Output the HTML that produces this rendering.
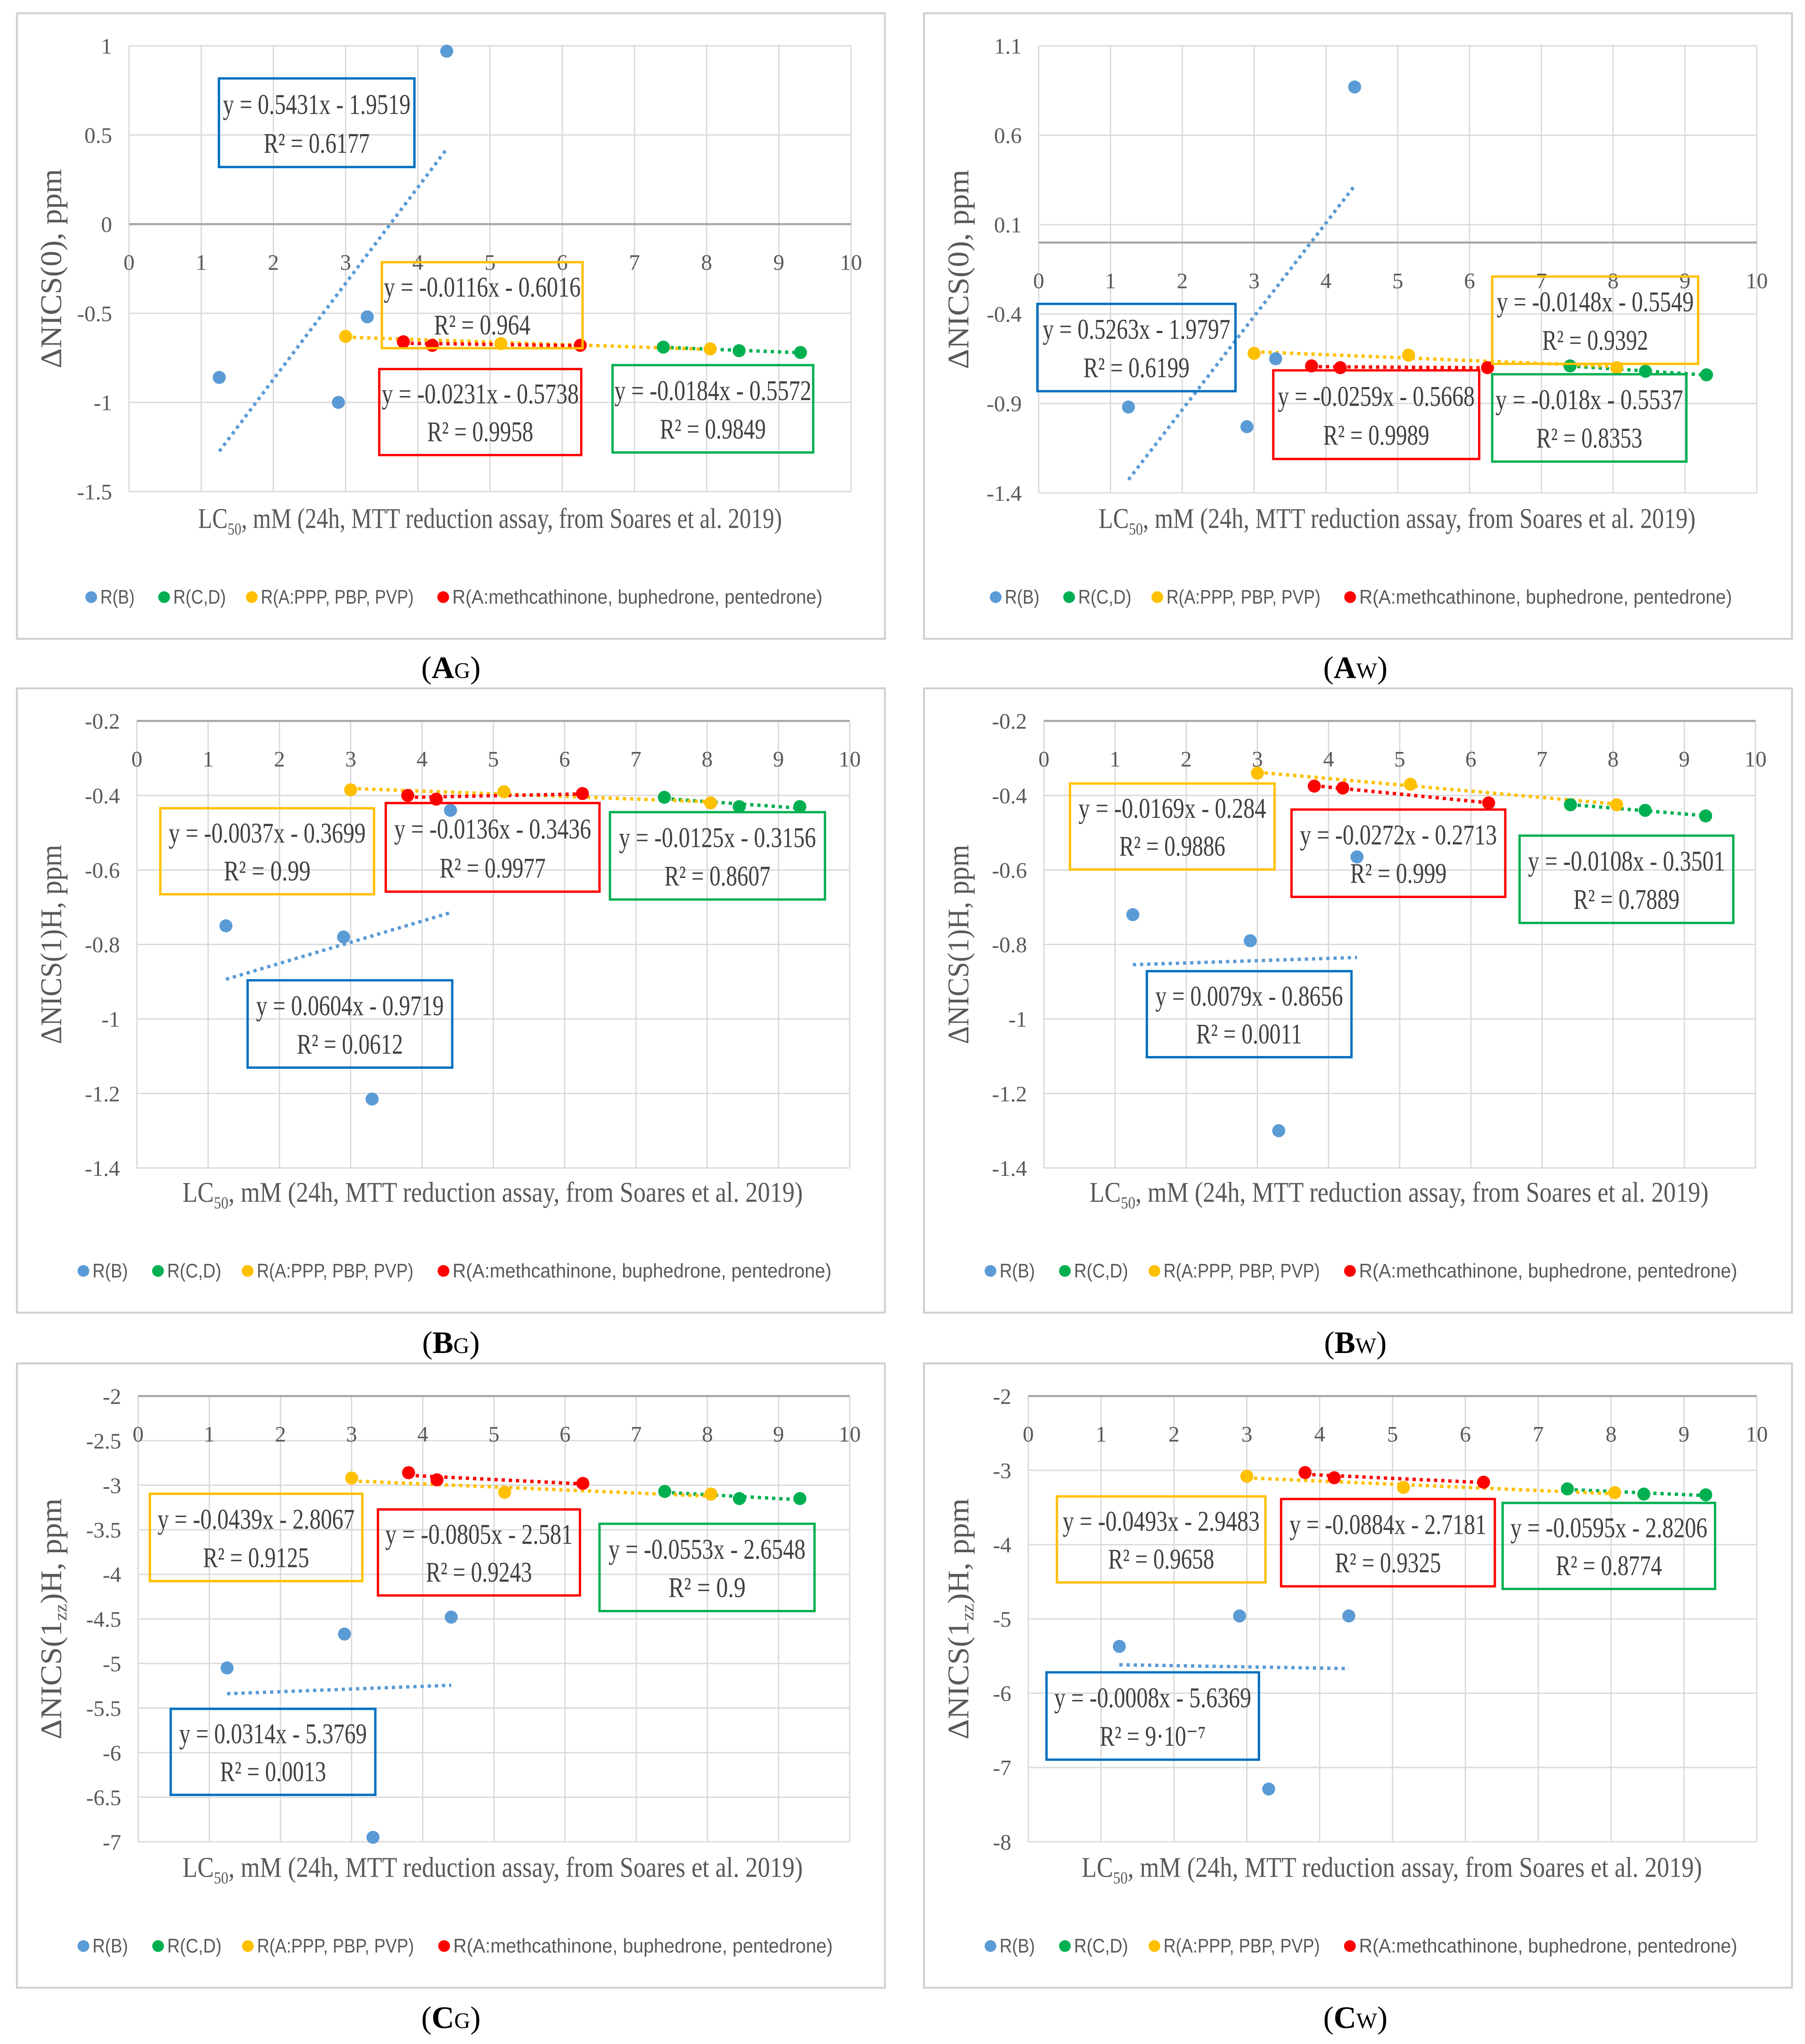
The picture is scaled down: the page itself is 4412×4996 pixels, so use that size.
<!DOCTYPE html>
<html><head><meta charset="utf-8">
<style>html,body{margin:0;padding:0;background:#fff}svg{display:block}</style>
</head><body>
<svg id="fig" width="4412" height="4996" viewBox="0 0 1385 1568" xmlns="http://www.w3.org/2000/svg" font-family="'Liberation Serif', serif"></svg>
<script>
// ---- data (shared x values, LC50 mM) ----
const xB = [1.25, 2.9, 3.3, 4.4];
const xCD = [7.4, 8.45, 9.3];
const xPPP = [3.0, 5.15, 8.05];
const xMeth = [3.8, 4.2, 6.25];
// AG
const agB = [-0.86, -1.0, -0.52, 0.97];
const agCD = [-0.69, -0.71, -0.72];
const agPPP = [-0.63, -0.67, -0.70];
const agMeth = [-0.66, -0.68, -0.68];
// AW
const awB = [-0.92, -1.03, -0.65, 0.87];
const awCD = [-0.69, -0.72, -0.74];
const awPPP = [-0.62, -0.63, -0.70];
const awMeth = [-0.69, -0.70, -0.70];
// BG
const bgB = [-0.75, -0.78, -1.215, -0.44];
const bgCD = [-0.405, -0.43, -0.43];
const bgPPP = [-0.385, -0.39, -0.42];
const bgMeth = [-0.40, -0.41, -0.395];
// BW
const bwB = [-0.72, -0.79, -1.30, -0.565];
const bwCD = [-0.425, -0.44, -0.455];
const bwPPP = [-0.34, -0.37, -0.425];
const bwMeth = [-0.375, -0.38, -0.42];
// CG
const cgB = [-5.05, -4.67, -6.95, -4.48];
const cgCD = [-3.07, -3.15, -3.15];
const cgPPP = [-2.92, -3.08, -3.10];
const cgMeth = [-2.86, -2.94, -2.98];
// CW
const cwB = [-5.37, -4.96, -7.29, -4.96];
const cwCD = [-3.25, -3.32, -3.33];
const cwPPP = [-3.08, -3.23, -3.30];
const cwMeth = [-3.03, -3.10, -3.16];
// tick labels
const xTicks = [0,1,2,3,4,5,6,7,8,9,10];
const yTicksA_G = [1, 0.5, 0, -0.5, -1, -1.5];
const yTicksA_W = [1.1, 0.6, 0.1, -0.4, -0.9, -1.4];
const yTicksB = [-0.2, -0.4, -0.6, -0.8, -1, -1.2, -1.4];
const yTicksC_G = [-2, -2.5, -3, -3.5, -4, -4.5, -5, -5.5, -6, -6.5, -7];
const yTicksC_W = [-2, -3, -4, -5, -6, -7, -8];
// equation labels
const eqAG = [["y = 0.5431x - 1.9519","R² = 0.6177"],["y = -0.0116x - 0.6016","R² = 0.964"],["y = -0.0231x - 0.5738","R² = 0.9958"],["y = -0.0184x - 0.5572","R² = 0.9849"]];
const eqAW = [["y = 0.5263x - 1.9797","R² = 0.6199"],["y = -0.0148x - 0.5549","R² = 0.9392"],["y = -0.0259x - 0.5668","R² = 0.9989"],["y = -0.018x - 0.5537","R² = 0.8353"]];
const eqBG = [["y = 0.0604x - 0.9719","R² = 0.0612"],["y = -0.0037x - 0.3699","R² = 0.99"],["y = -0.0136x - 0.3436","R² = 0.9977"],["y = -0.0125x - 0.3156","R² = 0.8607"]];
const eqBW = [["y = 0.0079x - 0.8656","R² = 0.0011"],["y = -0.0169x - 0.284","R² = 0.9886"],["y = -0.0272x - 0.2713","R² = 0.999"],["y = -0.0108x - 0.3501","R² = 0.7889"]];
const eqCG = [["y = 0.0314x - 5.3769","R² = 0.0013"],["y = -0.0439x - 2.8067","R² = 0.9125"],["y = -0.0805x - 2.581","R² = 0.9243"],["y = -0.0553x - 2.6548","R² = 0.9"]];
const eqCW = [["y = -0.0008x - 5.6369","R² = 9·10⁻⁷"],["y = -0.0493x - 2.9483","R² = 0.9658"],["y = -0.0884x - 2.7181","R² = 0.9325"],["y = -0.0595x - 2.8206","R² = 0.8774"]];

const COL = {B:'#5b9bd5', CD:'#00b050', PPP:'#ffc000', Meth:'#ff0000'};
const BOXCOL = ['#0070c0','#ffc000','#ff0000','#00b050'];
const NS = 'http://www.w3.org/2000/svg';
const svg = document.getElementById('fig');
function mk(tag, attrs, parent){ const e=document.createElementNS(NS,tag); for(const k in attrs) e.setAttribute(k,attrs[k]); (parent||svg).appendChild(e); return e; }

const panels = [
 {id:'ag', box:[13,10,679,490], x0:99, x1:653, yTop:35, yBot:377, yMax:1, yMin:-1.5, axisY:0, ticks:yTicksA_G, data:[agB,agCD,agPPP,agMeth], eq:eqAG,
  eqBoxes:[[168,60,318,128],[293,201,447,267],[291,283,446,349],[470,280,624,347]], ytitle:['ΔNICS(0), ppm',''], xt:[152,600], xtitleY:398, legY:458, leg:[66,631], lab:'A', sub:'G', labX:346, labY:520},
 {id:'aw', box:[709,10,1375,490], x0:797, x1:1348, yTop:35, yBot:378, yMax:1.1, yMin:-1.4, axisY:0, ticks:yTicksA_W, data:[awB,awCD,awPPP,awMeth], eq:eqAW,
  eqBoxes:[[796,233,948,300],[1145,212,1303,279],[977,284,1135,352],[1145,287,1294,354]], ytitle:['ΔNICS(0), ppm',''], xt:[843,1301], xtitleY:398, legY:458, leg:[760,1329], lab:'A', sub:'W', labX:1040, labY:520},
 {id:'bg', box:[13,528,679,1007], x0:105, x1:652, yTop:553, yBot:896, yMax:-0.2, yMin:-1.4, axisY:-0.2, ticks:yTicksB, data:[bgB,bgCD,bgPPP,bgMeth], eq:eqBG,
  eqBoxes:[[190,752,347,819],[123,620,287,686],[296,616,460,684],[468,623,633,690]], ytitle:['ΔNICS(1)H, ppm',''], xt:[140,616], xtitleY:915, legY:975, leg:[60,638], lab:'B', sub:'G', labX:346, labY:1038},
 {id:'bw', box:[709,528,1375,1007], x0:801, x1:1347, yTop:553, yBot:896, yMax:-0.2, yMin:-1.4, axisY:-0.2, ticks:yTicksB, data:[bwB,bwCD,bwPPP,bwMeth], eq:eqBW,
  eqBoxes:[[880,745,1037,811],[821,601,978,667],[991,621,1155,688],[1166,641,1330,708]], ytitle:['ΔNICS(1)H, ppm',''], xt:[836,1311], xtitleY:915, legY:975, leg:[756,1333], lab:'B', sub:'W', labX:1040, labY:1038},
 {id:'cg', box:[13,1046,679,1525], x0:106, x1:652, yTop:1071, yBot:1413, yMax:-2, yMin:-7, axisY:-2, ticks:yTicksC_G, data:[cgB,cgCD,cgPPP,cgMeth], eq:eqCG,
  eqBoxes:[[131,1311,288,1377],[115,1146,278,1213],[290,1158,445,1224],[460,1169,625,1236]], ytitle:['ΔNICS(1','zz',')H, ppm'], xt:[140,616], xtitleY:1433, legY:1493, leg:[60,639], lab:'C', sub:'G', labX:346, labY:1556},
 {id:'cw', box:[709,1046,1375,1525], x0:789, x1:1348, yTop:1071, yBot:1413, yMax:-2, yMin:-8, axisY:-2, ticks:yTicksC_W, data:[cwB,cwCD,cwPPP,cwMeth], eq:eqCW,
  eqBoxes:[[803,1283,966,1350],[811,1148,971,1214],[983,1150,1147,1217],[1153,1153,1316,1219]], ytitle:['ΔNICS(1','zz',')H, ppm'], xt:[830,1306], xtitleY:1433, legY:1493, leg:[756,1333], lab:'C', sub:'W', labX:1040, labY:1556},
];
const xsets = [xB, xCD, xPPP, xMeth];
const keys = ['B','CD','PPP','Meth'];
const legText = ['R(B)','R(C,D)','R(A:PPP, PBP, PVP)','R(A:methcathinone, buphedrone, pentedrone)'];
const legFrac = [[0,0.066],[0.099,0.19],[0.218,0.445],[0.478,1]];

function fit(xs, ys){ const n=xs.length; let sx=0,sy=0,sxx=0,sxy=0; for(let i=0;i<n;i++){sx+=xs[i];sy+=ys[i];sxx+=xs[i]*xs[i];sxy+=xs[i]*ys[i];} const m=(n*sxy-sx*sy)/(n*sxx-sx*sx); return [m,(sy-m*sx)/n]; }

panels.forEach(p=>{
  const g = mk('g',{});
  
  
  const X = v => p.x0 + (v/10)*(p.x1-p.x0);
  const Y = v => p.yTop + (p.yMax-v)/(p.yMax-p.yMin)*(p.yBot-p.yTop);
  const [bx0,by0,bx1,by1] = p.box;
  const frame = mk('rect',{x:bx0,y:by0,width:bx1-bx0,height:by1-by0,fill:'#fff',stroke:'#d0d0d0','stroke-width':1.5},g);
  
  
  xTicks.forEach(t=>{ mk('line',{x1:X(t),x2:X(t),y1:p.yTop,y2:p.yBot,stroke:'#d9d9d9','stroke-width':1},g); });
  p.ticks.forEach(t=>{
    mk('line',{x1:p.x0,x2:p.x1,y1:Y(t),y2:Y(t),stroke:'#d9d9d9','stroke-width':1},g);
    const tl = mk('text',{x:p.x0-13,y:Y(t)+6,'text-anchor':'end','font-size':17,fill:'#595959'},g);
    tl.textContent = String(t);
    
    
  });
  const ay = Y(p.axisY);
  const ax = mk('line',{x1:p.x0,x2:p.x1,y1:ay,y2:ay,stroke:'#a6a6a6','stroke-width':1.6},g);
  
  
  xTicks.forEach(t=>{
    const tl = mk('text',{x:X(t),y:ay+35,'text-anchor':'middle','font-size':17,fill:'#595959'},g);
    tl.textContent = String(t);
    
    
  });
  p.data.forEach((ys,si)=>{
    const xs = xsets[si]; const [m,b] = fit(xs,ys);
    const xa = Math.min(...xs), xb = Math.max(...xs);
    const tr = mk('line',{x1:X(xa),y1:Y(m*xa+b),x2:X(xb),y2:Y(m*xb+b),stroke:COL[keys[si]],'stroke-width':2.6,'stroke-dasharray':'2.5 3'},g);
    
    
  });
  [0,2,1,3].forEach(si=>{
    const xs = xsets[si];
    p.data[si].forEach((v,i)=>{
      const c = mk('circle',{cx:X(xs[i]),cy:Y(v),r:5,fill:COL[keys[si]]},g);
      
      
    });
  });
  p.eqBoxes.forEach((bb,k)=>{
    const eg = mk('g',{},g);
    
    
    mk('rect',{x:bb[0],y:bb[1],width:bb[2]-bb[0],height:bb[3]-bb[1],fill:'none',stroke:BOXCOL[k],'stroke-width':1.8},eg);
    const cx=(bb[0]+bb[2])/2, h=bb[3]-bb[1];
    const l1 = mk('text',{x:cx,y:bb[1]+h*0.40,'text-anchor':'middle','font-size':22,fill:'#404040',textLength:p.eq[k][0].length*7.2,lengthAdjust:'spacingAndGlyphs'},eg);
    l1.textContent = p.eq[k][0];
    const l2 = mk('text',{x:cx,y:bb[1]+h*0.84,'text-anchor':'middle','font-size':22,fill:'#404040',textLength:p.eq[k][1].length*7.4,lengthAdjust:'spacingAndGlyphs'},eg);
    l2.textContent = p.eq[k][1];
  });
  const ycx = bx0+34, ycy = (p.yTop+p.yBot)/2;
  const yt = mk('text',{x:0,y:0,transform:`translate(${ycx},${ycy}) rotate(-90)`,'text-anchor':'middle','font-size':23,fill:'#595959',textLength:p.ytitle[1]?185:153,lengthAdjust:'spacingAndGlyphs'},g);
  
  
  if(p.ytitle[1]){ yt.appendChild(document.createTextNode(p.ytitle[0])); const s=mk('tspan',{'font-size':14,dy:4},yt); s.textContent=p.ytitle[1]; const r=mk('tspan',{dy:-4},yt); r.textContent=p.ytitle[2]; }
  else yt.textContent = p.ytitle[0];
  const xt = mk('text',{x:p.xt[0],y:p.xtitleY+7,'font-size':22,fill:'#595959',textLength:p.xt[1]-p.xt[0],lengthAdjust:'spacingAndGlyphs'},g);
  
  
  xt.appendChild(document.createTextNode('LC'));
  const s50 = mk('tspan',{'font-size':13,dy:5},xt); s50.textContent='50';
  const rest = mk('tspan',{dy:-5},xt); rest.textContent=', mM (24h, MTT reduction assay, from Soares et al. 2019)';
  const L0=p.leg[0], L1=p.leg[1], LW=L1-L0;
  legText.forEach((t,k)=>{
    const lg = mk('g',{},g);
    
    
    const a = L0+legFrac[k][0]*LW, b = L0+legFrac[k][1]*LW;
    mk('circle',{cx:a+4,cy:p.legY,r:4.5,fill:COL[keys[k]]},lg);
    const lt = mk('text',{x:a+11,y:p.legY+5,'font-size':15,'font-family':"'Liberation Sans', sans-serif",fill:'#595959',textLength:b-a-11,lengthAdjust:'spacingAndGlyphs'},lg);
    lt.textContent = t;
  });
  const pl = mk('text',{x:p.labX,y:p.labY,'text-anchor':'middle','font-size':24,fill:'#000'},svg);
  
  
  pl.appendChild(document.createTextNode('('));
  const bA = mk('tspan',{'font-weight':'bold'},pl); bA.textContent=p.lab;
  const sG = mk('tspan',{'font-size':17},pl); sG.textContent=p.sub;
  const cl = mk('tspan',{},pl); cl.textContent=')';
});
</script>
</body></html>
